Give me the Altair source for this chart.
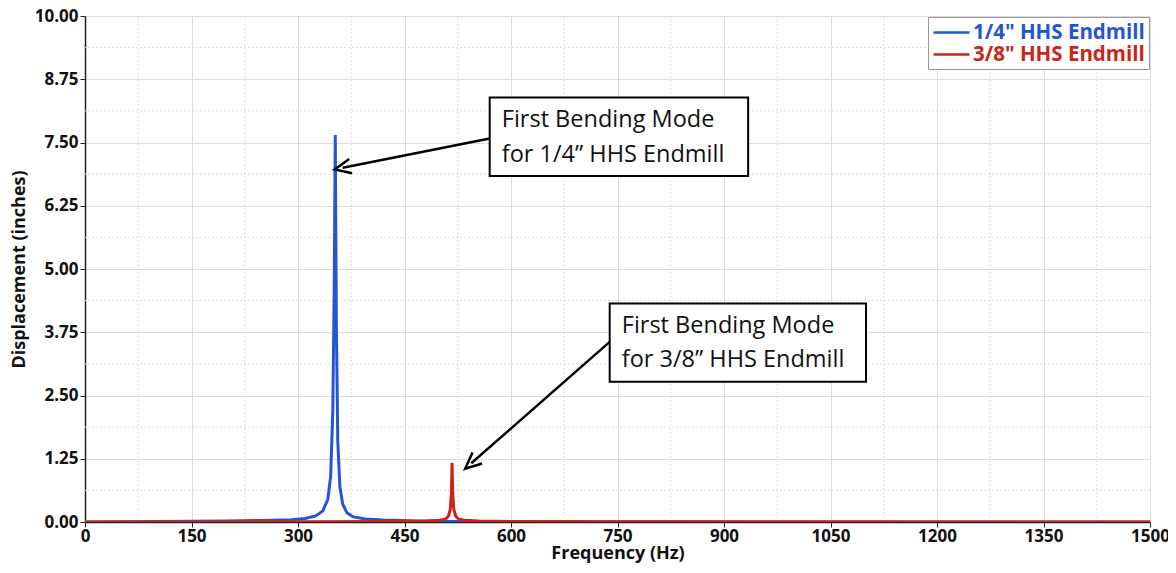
import altair as alt
import pandas as pd

# ---- data ----
blue_freq = [0, 100, 200, 250, 290, 310, 325, 335, 342, 346, 349, 351, 352.5, 354, 356, 359, 363, 369, 378, 395, 420, 470, 520, 600, 800, 1000, 1500]
blue_disp = [0.0, 0.01, 0.02, 0.03, 0.045, 0.07, 0.12, 0.22, 0.45, 0.9, 2.2, 4.6, 7.65, 4.0, 1.6, 0.7, 0.35, 0.18, 0.1, 0.06, 0.04, 0.02, 0.01, 0.006, 0.003, 0.002, 0.001]
red_freq = [0, 300, 420, 480, 500, 508, 512, 514.5, 516, 517, 518, 519.5, 522, 526, 534, 555, 600, 800, 1000, 1500]
red_disp = [0.0, 0.004, 0.01, 0.02, 0.035, 0.06, 0.12, 0.25, 0.55, 1.17, 0.55, 0.25, 0.12, 0.06, 0.035, 0.02, 0.01, 0.005, 0.003, 0.002]
series_names = ['1/4" HHS Endmill', '3/8" HHS Endmill']
series_colors = ["#2456d3", "#cc2419"]

x_ticks = [0, 150, 300, 450, 600, 750, 900, 1050, 1200, 1350, 1500]
y_ticks = [0, 1.25, 2.5, 3.75, 5.0, 6.25, 7.5, 8.75, 10.0]
x_minor = [v + 75 for v in x_ticks[:-1]]
y_minor = [v + 0.625 for v in y_ticks[:-1]]

# annotations (data coordinates)
box_x = [570, 739]
box_x2 = [934, 1100]
box_y = [8.39, 4.32]
box_y2 = [6.84, 2.77]
text_x = [587, 756]
line1_y = [7.94, 3.87]
line2_y = [7.25, 3.20]
line1_text = ["First Bending Mode", "First Bending Mode"]
line2_text = ["for 1/4\u201d HHS Endmill", "for 3/8\u201d HHS Endmill"]
arrow_x0 = [570, 739]
arrow_y0 = [7.58, 3.56]
arrow_x1 = [363, 544]
arrow_y1 = [7.0, 1.16]
arrow_angle = [258.7, 228.7]

df = pd.concat([
    pd.DataFrame({"freq": blue_freq, "disp": blue_disp, "series": series_names[0], "order": 0}),
    pd.DataFrame({"freq": red_freq, "disp": red_disp, "series": series_names[1], "order": 1}),
])

W, H = 1065, 506
xs = alt.Scale(domain=[0, 1500], nice=False, zero=False)
ys = alt.Scale(domain=[0, 10], nice=False, zero=False)

FONT = "Open Sans"
X_TITLE = "Frequency (Hz)"
Y_TITLE = "Displacement (inches)"

x_axis = alt.Axis(values=x_ticks, format="d", grid=True, gridColor="#dcdcdc",
                  labelFontSize=17, labelFontWeight="bold", labelColor="#111",
                  titleFontSize=18, titleFontWeight="bold", titleColor="#111",
                  domainColor="#222", domainWidth=1.5, tickColor="#222",
                  tickSize=5, labelPadding=1, titlePadding=0, labelFlush=False)
y_axis = alt.Axis(values=y_ticks, format=".2f", grid=True, gridColor="#dcdcdc",
                  labelFontSize=17, labelFontWeight="bold", labelColor="#111",
                  titleFontSize=18, titleFontWeight="bold", titleColor="#111",
                  domainColor="#222", domainWidth=1.5, tickColor="#222",
                  tickSize=5, labelPadding=2, titlePadding=6)

minor_x = alt.Chart(pd.DataFrame({"v": x_minor})).mark_rule(
    color="#dddddd", strokeDash=[2, 2], strokeWidth=1
).encode(x=alt.X("v:Q", scale=xs, axis=x_axis, title=X_TITLE))
minor_y = alt.Chart(pd.DataFrame({"v": y_minor})).mark_rule(
    color="#dddddd", strokeDash=[2, 2], strokeWidth=1
).encode(y=alt.Y("v:Q", scale=ys, axis=y_axis, title=Y_TITLE))

label_color_expr = {"expr": "datum.value == '3/8\" HHS Endmill' ? '%s' : '%s'" % (series_colors[1], series_colors[0])}

lines = alt.Chart(df).mark_line(strokeWidth=3, clip=True).encode(
    x=alt.X("freq:Q", scale=xs, title=X_TITLE, axis=x_axis),
    y=alt.Y("disp:Q", scale=ys, title=Y_TITLE, axis=y_axis),
    color=alt.Color("series:N", scale=alt.Scale(domain=series_names, range=series_colors),
                    legend=alt.Legend(title=None, orient="top-right", offset=1,
                                      symbolType="M -1 0 L 2.6 0", symbolStrokeWidth=2.5, symbolSize=400,
                                      labelFontSize=20.5, labelFontWeight="bold", labelFont=FONT,
                                      labelColor=label_color_expr, labelLimit=400,
                                      strokeColor="#999", fillColor="white", padding=4,
                                      rowPadding=0, labelOffset=18)),
    order=alt.Order("order:Q"),
    detail="series:N",
)

ann = pd.DataFrame({
    "bx": box_x, "bx2": box_x2, "by": box_y, "by2": box_y2,
    "tx": text_x, "l1y": line1_y, "l2y": line2_y,
    "l1": line1_text, "l2": line2_text,
    "ax0": arrow_x0, "ay0": arrow_y0, "ax1": arrow_x1, "ay1": arrow_y1, "ang": arrow_angle,
})
base = alt.Chart(ann)

arrow_lines = base.mark_rule(color="black", strokeWidth=2.5).encode(
    x=alt.X("ax0:Q", scale=xs), x2="ax1:Q", y=alt.Y("ay0:Q", scale=ys), y2="ay1:Q")
arrow_heads = base.mark_point(shape="M -0.9 1 L 0 -1 L 0.9 1", filled=False, color="black",
                              strokeWidth=2.5, size=260, opacity=1).encode(
    x=alt.X("ax1:Q", scale=xs), y=alt.Y("ay1:Q", scale=ys), angle=alt.Angle("ang:Q", scale=None))
boxes = base.mark_rect(fill="white", stroke="black", strokeWidth=2).encode(
    x=alt.X("bx:Q", scale=xs), x2="bx2:Q", y=alt.Y("by:Q", scale=ys), y2="by2:Q")
t1 = base.mark_text(align="left", baseline="middle", font=FONT, fontSize=23.5, color="#111").encode(
    x=alt.X("tx:Q", scale=xs), y=alt.Y("l1y:Q", scale=ys), text="l1:N")
t2 = base.mark_text(align="left", baseline="middle", font=FONT, fontSize=23.5, color="#111").encode(
    x=alt.X("tx:Q", scale=xs), y=alt.Y("l2y:Q", scale=ys), text="l2:N")

chart = alt.layer(minor_x, minor_y, lines, arrow_lines, arrow_heads, boxes, t1, t2).properties(
    width=W, height=H,
    autosize=alt.AutoSizeParams(type="none"),
    padding={"left": 77, "top": 8, "right": 18, "bottom": 44},
).configure_view(stroke="#777", strokeWidth=1).configure(font=FONT)

chart.save("out.html", embed_options={"renderer": "svg", "actions": False})
